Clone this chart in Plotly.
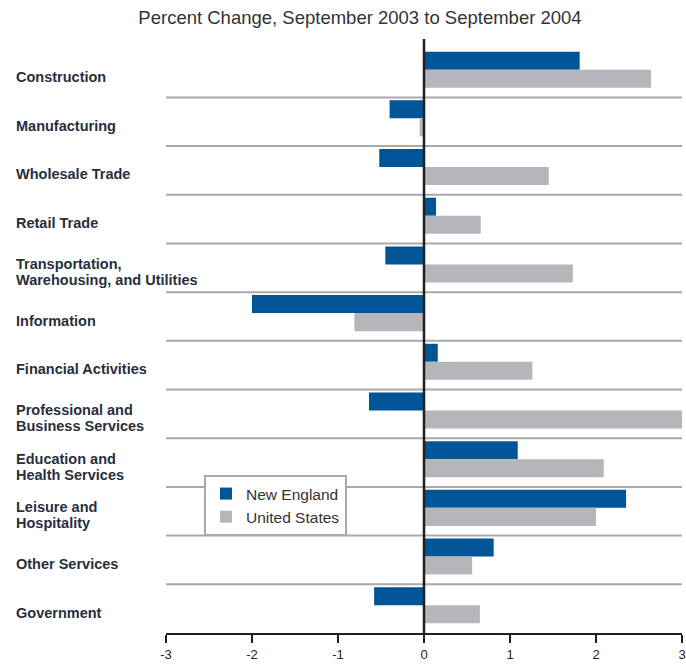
import plotly.graph_objects as go

categories = [
    "Construction",
    "Manufacturing",
    "Wholesale Trade",
    "Retail Trade",
    "Transportation,<br>Warehousing, and Utilities",
    "Information",
    "Financial Activities",
    "Professional and<br>Business Services",
    "Education and<br>Health Services",
    "Leisure and<br>Hospitality",
    "Other Services",
    "Government",
]
new_england = [1.81, -0.40, -0.52, 0.14, -0.45, -2.00, 0.16, -0.64, 1.09, 2.35, 0.81, -0.58]
united_states = [2.64, -0.05, 1.45, 0.66, 1.73, -0.81, 1.26, 3.00, 2.09, 2.00, 0.56, 0.65]
tick_vals = [-3, -2, -1, 0, 1, 2, 3]
tick_text = ["-3", "-2", "-1", "0", "1", "2", "3"]

ne_color = "#005596"
us_color = "#b5b6ba"
label_color = "#262f3d"

fig = go.Figure()
fig.add_trace(go.Bar(
    y=categories, x=new_england, orientation="h", name="New England",
    marker=dict(color=ne_color, line=dict(width=0)),
    width=0.37, offset=-0.44,
))
fig.add_trace(go.Bar(
    y=categories, x=united_states, orientation="h", name="United States",
    marker=dict(color=us_color, line=dict(width=0)),
    width=0.37, offset=-0.07,
))

# separators between categories
for i in range(len(categories) - 1):
    fig.add_shape(type="line", xref="paper", yref="y",
                  x0=0, x1=1, y0=i + 0.5, y1=i + 0.5,
                  line=dict(color="#a9a9a9", width=2), layer="below")

# zero line, extends above the first row
fig.add_shape(type="line", xref="x", yref="paper", x0=0, x1=0, y0=0, y1=1,
              line=dict(color="#231f20", width=2.5), layer="above")

# left-aligned category labels, one annotation per line for tight line spacing
for i, c in enumerate(categories):
    lines = c.split("<br>")
    n = len(lines)
    for j, line in enumerate(lines):
        shift = -4 - (j - (n - 1) / 2) * 16
        fig.add_annotation(x=-151 / 516, xref="paper", xanchor="left",
                           y=i, yref="y", yanchor="middle", yshift=shift,
                           text=line, showarrow=False, align="left",
                           borderpad=0, height=16,
                           font=dict(family="Liberation Sans", size=14.5, color=label_color,
                                     weight="bold"))

fig.update_layout(
    width=686, height=667,
    margin=dict(l=166, r=4, t=39, b=34, autoexpand=False),
    paper_bgcolor="white", plot_bgcolor="white",
    barmode="overlay",
    showlegend=True,
    title=dict(text="Percent Change, September 2003 to September 2004",
               x=360 / 686, xref="container", xanchor="center",
               y=1 - 18 / 667, yref="container", yanchor="middle",
               font=dict(family="Liberation Sans", size=18.5, color="#333333")),
    xaxis=dict(range=[-3, 3], tickvals=tick_vals, ticktext=tick_text,
               showgrid=False, zeroline=False, automargin=False,
               showline=True, linecolor="#231f20", linewidth=2,
               ticks="outside", ticklen=8, tickwidth=2, tickcolor="#231f20",
               tickfont=dict(family="Liberation Sans", size=13, color="#222222")),
    yaxis=dict(type="category", categoryorder="array", categoryarray=categories,
               range=[11.5, -0.7], showticklabels=False, showgrid=False,
               zeroline=False, showline=False, automargin=False),
    legend=dict(x=38 / 516, y=(633 - 475) / 594, xanchor="left", yanchor="top",
                bgcolor="white", bordercolor="#a9a9a9", borderwidth=2,
                font=dict(family="Liberation Sans", size=15.5, color="#333333"),
                traceorder="normal", tracegroupgap=0, itemwidth=30),
)

fig.write_html("out.html", config={"displayModeBar": False},
               post_script="document.body.style.margin = '0';")
